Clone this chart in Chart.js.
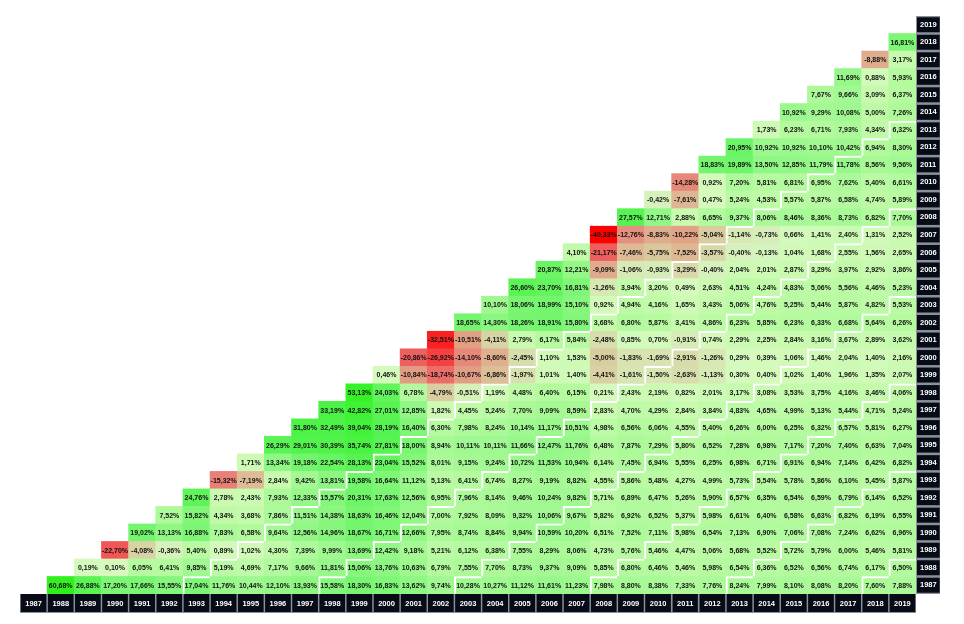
<!DOCTYPE html>
<html lang="en">

<head>
    <meta charset="UTF-8">
    <title>Annualized returns triangle</title>
    <script src="https://cdn.jsdelivr.net/npm/chart.js"></script>
    <style>
        html, body { margin: 0; padding: 0; background: #ffffff; }
        .chart-container { width: 964px; height: 624px; }
    </style>
</head>

<body>
    <div class="chart-container">
        <canvas id="returnsChart"></canvas>
    </div>

    <script>
        const years = [1987, 1988, 1989, 1990, 1991, 1992, 1993, 1994, 1995, 1996, 1997, 1998, 1999, 2000, 2001, 2002,
            2003, 2004, 2005, 2006, 2007, 2008, 2009, 2010, 2011, 2012, 2013, 2014, 2015, 2016, 2017, 2018, 2019];

        // annualized return (%) from the start year to each later end year
        const from1987 = [60.68, 26.88, 17.20, 17.66, 15.55, 17.04, 11.76, 10.44, 12.10, 13.93, 15.58, 18.30, 16.83, 13.62, 9.74, 10.28, 10.27, 11.12, 11.61, 11.23, 7.98, 8.80, 8.38, 7.33, 7.76, 8.24, 7.99, 8.10, 8.08, 8.20, 7.60, 7.88];
        const from1988 = [0.19, 0.10, 6.05, 6.41, 9.85, 5.19, 4.69, 7.17, 9.66, 11.81, 15.06, 13.76, 10.63, 6.79, 7.55, 7.70, 8.73, 9.37, 9.09, 5.85, 6.80, 6.46, 5.46, 5.98, 6.54, 6.36, 6.52, 6.56, 6.74, 6.17, 6.50];
        const from1989 = [-22.70, -4.08, -0.36, 5.40, 0.89, 1.02, 4.30, 7.39, 9.99, 13.69, 12.42, 9.18, 5.21, 6.12, 6.38, 7.55, 8.29, 8.06, 4.73, 5.76, 5.46, 4.47, 5.06, 5.68, 5.52, 5.72, 5.79, 6.00, 5.46, 5.81];
        const from1990 = [19.02, 13.13, 16.88, 7.83, 6.58, 9.64, 12.56, 14.96, 18.67, 16.71, 12.66, 7.95, 8.74, 8.84, 9.94, 10.59, 10.20, 6.51, 7.52, 7.11, 5.98, 6.54, 7.13, 6.90, 7.06, 7.08, 7.24, 6.62, 6.96];
        const from1991 = [7.52, 15.82, 4.34, 3.68, 7.86, 11.51, 14.38, 18.63, 16.46, 12.04, 7.00, 7.92, 8.09, 9.32, 10.06, 9.67, 5.82, 6.92, 6.52, 5.37, 5.98, 6.61, 6.40, 6.58, 6.63, 6.82, 6.19, 6.55];
        const from1992 = [24.76, 2.78, 2.43, 7.93, 12.33, 15.57, 20.31, 17.63, 12.56, 6.95, 7.96, 8.14, 9.46, 10.24, 9.82, 5.71, 6.89, 6.47, 5.26, 5.90, 6.57, 6.35, 6.54, 6.59, 6.79, 6.14, 6.52];
        const from1993 = [-15.32, -7.19, 2.84, 9.42, 13.81, 19.58, 16.64, 11.12, 5.13, 6.41, 6.74, 8.27, 9.19, 8.82, 4.55, 5.86, 5.48, 4.27, 4.99, 5.73, 5.54, 5.78, 5.86, 6.10, 5.45, 5.87];
        const from1994 = [1.71, 13.34, 19.18, 22.54, 28.13, 23.04, 15.52, 8.01, 9.15, 9.24, 10.72, 11.53, 10.94, 6.14, 7.45, 6.94, 5.55, 6.25, 6.98, 6.71, 6.91, 6.94, 7.14, 6.42, 6.82];
        const from1995 = [26.29, 29.01, 30.39, 35.74, 27.81, 18.00, 8.94, 10.11, 10.11, 11.66, 12.47, 11.76, 6.48, 7.87, 7.29, 5.80, 6.52, 7.28, 6.98, 7.17, 7.20, 7.40, 6.63, 7.04];
        const from1996 = [31.80, 32.49, 39.04, 28.19, 16.40, 6.30, 7.98, 8.24, 10.14, 11.17, 10.51, 4.98, 6.56, 6.06, 4.55, 5.40, 6.26, 6.00, 6.25, 6.32, 6.57, 5.81, 6.27];
        const from1997 = [33.19, 42.82, 27.01, 12.85, 1.82, 4.45, 5.24, 7.70, 9.09, 8.59, 2.83, 4.70, 4.29, 2.84, 3.84, 4.83, 4.65, 4.99, 5.13, 5.44, 4.71, 5.24];
        const from1998 = [53.13, 24.03, 6.78, -4.79, -0.51, 1.19, 4.48, 6.40, 6.15, 0.21, 2.43, 2.19, 0.82, 2.01, 3.17, 3.08, 3.53, 3.75, 4.16, 3.46, 4.06];
        const from1999 = [0.46, -10.84, -18.74, -10.67, -6.86, -1.97, 1.01, 1.40, -4.41, -1.61, -1.50, -2.63, -1.13, 0.30, 0.40, 1.02, 1.40, 1.96, 1.35, 2.07];
        const from2000 = [-20.86, -26.92, -14.10, -8.60, -2.45, 1.10, 1.53, -5.00, -1.83, -1.69, -2.91, -1.26, 0.29, 0.39, 1.06, 1.46, 2.04, 1.40, 2.16];
        const from2001 = [-32.51, -10.51, -4.11, 2.79, 6.17, 5.84, -2.48, 0.85, 0.70, -0.91, 0.74, 2.29, 2.25, 2.84, 3.16, 3.67, 2.89, 3.62];
        const from2002 = [18.65, 14.30, 18.26, 18.91, 15.80, 3.68, 6.80, 5.87, 3.41, 4.86, 6.23, 5.85, 6.23, 6.33, 6.68, 5.64, 6.26];
        const from2003 = [10.10, 18.06, 18.99, 15.10, 0.92, 4.94, 4.16, 1.65, 3.43, 5.06, 4.76, 5.25, 5.44, 5.87, 4.82, 5.53];
        const from2004 = [26.60, 23.70, 16.81, -1.26, 3.94, 3.20, 0.49, 2.63, 4.51, 4.24, 4.83, 5.06, 5.56, 4.46, 5.23];
        const from2005 = [20.87, 12.21, -9.09, -1.06, -0.93, -3.29, -0.40, 2.04, 2.01, 2.87, 3.29, 3.97, 2.92, 3.86];
        const from2006 = [4.10, -21.17, -7.46, -5.75, -7.52, -3.57, -0.40, -0.13, 1.04, 1.68, 2.55, 1.56, 2.65];
        const from2007 = [-40.33, -12.76, -8.83, -10.22, -5.04, -1.14, -0.73, 0.66, 1.41, 2.40, 1.31, 2.52];
        const from2008 = [27.57, 12.71, 2.88, 6.65, 9.37, 8.06, 8.46, 8.36, 8.73, 6.82, 7.70];
        const from2009 = [-0.42, -7.61, 0.47, 5.24, 4.53, 5.57, 5.87, 6.58, 4.74, 5.89];
        const from2010 = [-14.28, 0.92, 7.20, 5.81, 6.81, 6.95, 7.62, 5.40, 6.61];
        const from2011 = [18.83, 19.89, 13.50, 12.85, 11.79, 11.78, 8.56, 9.56];
        const from2012 = [20.95, 10.92, 10.92, 10.10, 10.42, 6.94, 8.30];
        const from2013 = [1.73, 6.23, 6.71, 7.93, 4.34, 6.32];
        const from2014 = [10.92, 9.29, 10.08, 5.00, 7.26];
        const from2015 = [7.67, 9.66, 3.09, 6.37];
        const from2016 = [11.69, 0.88, 5.93];
        const from2017 = [-8.88, 3.17];
        const from2018 = [16.81];

        const rows = [from1987, from1988, from1989, from1990, from1991, from1992, from1993, from1994, from1995,
            from1996, from1997, from1998, from1999, from2000, from2001, from2002, from2003, from2004, from2005,
            from2006, from2007, from2008, from2009, from2010, from2011, from2012, from2013, from2014, from2015,
            from2016, from2017, from2018];

        // colour ramps, value -> rgb
        const greenStops = [[0, [214, 250, 190]], [3, [200, 250, 175]], [6, [182, 250, 160]], [10, [160, 248, 145]],
            [15, [135, 246, 125]], [20, [110, 245, 105]], [30, [80, 243, 75]], [45, [60, 242, 50]], [60, [50, 240, 30]]];
        const redStops = [[0, [214, 245, 190]], [2, [215, 225, 175]], [5, [217, 205, 160]], [8, [222, 180, 145]],
            [11, [226, 155, 130]], [15, [232, 130, 120]], [21, [238, 95, 95]], [27, [245, 65, 65]], [33, [252, 30, 30]], [40, [255, 0, 0]]];

        function colorFor(v) {
            if (v === null || v === undefined) return 'rgba(0,0,0,0)';
            const stops = v >= 0 ? greenStops : redStops;
            const a = Math.abs(v);
            let c = stops[stops.length - 1][1];
            for (let i = 1; i < stops.length; i++) {
                if (a <= stops[i][0]) {
                    const [a0, c0] = stops[i - 1];
                    const [a1, c1] = stops[i];
                    const t = (a - a0) / (a1 - a0);
                    c = c0.map((x, k) => Math.round(x + (c1[k] - x) * t));
                    break;
                }
            }
            return `rgb(${c[0]}, ${c[1]}, ${c[2]})`;
        }

        // one floating-bar dataset per start year
        const datasets = rows.map((row, i) => {
            const start = years[i];
            return {
                label: String(start),
                data: years.map(end => end > start ? [start - 0.5, start + 0.5] : null),
                returns: years.map(end => end > start ? row[end - start - 1] : null),
                spans: years.map(end => end - start),
                backgroundColor: ctx => colorFor(ctx.dataset.returns[ctx.dataIndex]),
                borderColor: '#ffffff',
                borderWidth: ctx => {
                    const k = ctx.dataset.spans[ctx.dataIndex];
                    return (k > 1 && (k - 1) % 5 === 0) ? { left: 2, top: 2, right: 0, bottom: 0 } : 0;
                },
                borderSkipped: false,
                grouped: false,
                barPercentage: 1,
                categoryPercentage: 1
            };
        });

        const cellLabels = {
            id: 'cellLabels',
            afterDatasetsDraw(chart) {
                const ctx = chart.ctx;
                ctx.save();
                ctx.font = 'bold 7px "Liberation Sans", Arial, sans-serif';
                ctx.fillStyle = '#111111';
                ctx.textAlign = 'center';
                ctx.textBaseline = 'middle';
                chart.data.datasets.forEach((ds, i) => {
                    chart.getDatasetMeta(i).data.forEach((bar, j) => {
                        const v = ds.returns[j];
                        if (v === null || v === undefined) return;
                        ctx.fillText(v.toFixed(2).replace('.', ',') + '%', bar.x, (bar.y + bar.base) / 2 + 0.5);
                    });
                });
                ctx.restore();
            }
        };

        // grey strips behind the year boxes, so the gaps between boxes show grey
        const labelStrips = {
            id: 'labelStrips',
            beforeDraw(chart) {
                const { ctx, chartArea, scales } = chart;
                ctx.save();
                ctx.fillStyle = '#8a919d';
                ctx.fillRect(scales.x.left, chartArea.bottom, scales.x.right - scales.x.left, 19);
                ctx.fillRect(chartArea.right, chartArea.top, 24, chartArea.bottom - chartArea.top);
                ctx.restore();
            }
        };

        const tickFont = { family: '"Liberation Sans", Arial, sans-serif', size: 7.5, weight: 'bold' };

        const config = {
            type: 'bar',
            data: { labels: years.map(String), datasets: datasets },
            options: {
                responsive: true,
                maintainAspectRatio: false,
                animation: false,
                events: [],
                layout: { padding: { left: 20, top: 16, right: 0, bottom: 0 } },
                scales: {
                    x: {
                        type: 'category',
                        position: 'bottom',
                        grid: { display: false, drawTicks: false },
                        border: { display: false },
                        afterFit: axis => { axis.height = 30; },
                        ticks: {
                            color: '#ffffff',
                            font: tickFont,
                            padding: 5,
                            maxRotation: 0,
                            autoSkip: false,
                            showLabelBackdrop: true,
                            backdropColor: '#060b16',
                            backdropPadding: { top: 5, bottom: 4, left: 4.5, right: 4.5 }
                        }
                    },
                    y: {
                        type: 'linear',
                        position: 'right',
                        min: 1986.5,
                        max: 2019.5,
                        grid: { display: false, drawTicks: false },
                        border: { display: false },
                        afterFit: axis => { axis.width = 48; },
                        afterBuildTicks: axis => { axis.ticks = years.map(v => ({ value: v })); },
                        ticks: {
                            color: '#ffffff',
                            font: tickFont,
                            padding: 4,
                            callback: v => String(v),
                            showLabelBackdrop: true,
                            backdropColor: '#060b16',
                            backdropPadding: { top: 3, bottom: 3, left: 3, right: 3 }
                        }
                    }
                },
                plugins: {
                    legend: { display: false },
                    tooltip: { enabled: false }
                }
            },
            plugins: [labelStrips, cellLabels]
        };

        new Chart(document.getElementById('returnsChart'), config);
    </script>
</body>

</html>
